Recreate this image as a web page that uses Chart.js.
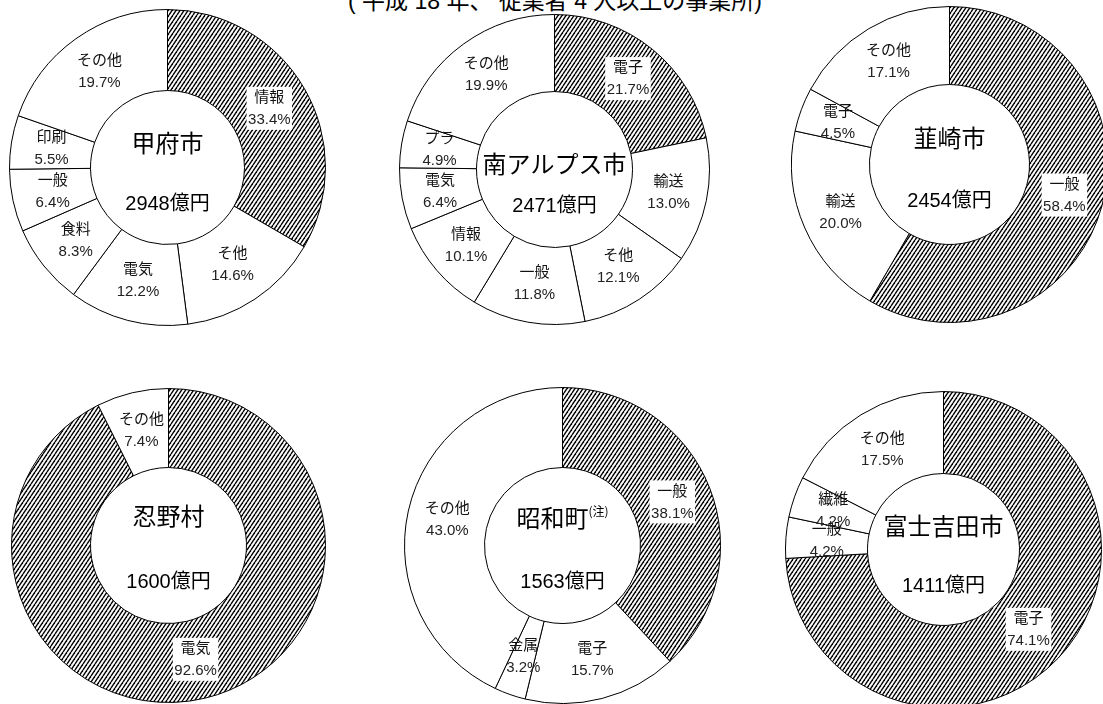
<!DOCTYPE html>
<html>
<head>
<meta charset="utf-8">
<script src="https://cdn.jsdelivr.net/npm/chart.js@4.4.1/dist/chart.umd.min.js"></script>
<style>
  html, body { margin:0; padding:0; background:#fff; width:1103px; height:704px; overflow:hidden; }
  .box { position:absolute; }
  #note { position:absolute; left:300px; width:510px; top:-18px; text-align:center; font:23px "Liberation Sans","Noto Sans CJK JP",sans-serif; color:#000; white-space:nowrap; }
</style>
</head>
<body>
<div id="note">( 平成 18 年、 従業者 4 人以上の事業所)</div>
<script>
// ------------------------------------------------------------
// data (shares in %, first slice of each ring is the hatched one)
// ------------------------------------------------------------
const cities    = ['甲府市','南アルプス市','韮崎市','忍野村','昭和町','富士吉田市'];
const cityNotes = ['','','','','(注)',''];
const totals    = [2948, 2471, 2454, 1600, 1563, 1411];

const kofuCats     = ['情報','そ他','電気','食料','一般','印刷','その他'];
const kofuShares   = [33.4, 14.6, 12.2, 8.3, 6.4, 5.5, 19.7];
const alpsCats     = ['電子','輸送','そ他','一般','情報','電気','プラ','その他'];
const alpsShares   = [21.7, 13.0, 12.1, 11.8, 10.1, 6.4, 4.9, 19.9];
const nirasakiCats   = ['一般','輸送','電子','その他'];
const nirasakiShares = [58.4, 20.0, 4.5, 17.1];
const oshinoCats   = ['電気','その他'];
const oshinoShares = [92.6, 7.4];
const showaCats    = ['一般','電子','金属','その他'];
const showaShares  = [38.1, 15.7, 3.2, 43.0];
const fujiCats     = ['電子','一般','繊維','その他'];
const fujiShares   = [74.1, 4.2, 4.2, 17.5];

const allCats   = [kofuCats, alpsCats, nirasakiCats, oshinoCats, showaCats, fujiCats];
const allShares = [kofuShares, alpsShares, nirasakiShares, oshinoShares, showaShares, fujiShares];

// ring geometry on the page: centre, outer radius, inner radius, name offset
const layout = [
  { cx:167, cy:167, r:158, ri:77, nameDy:-25 },
  { cx:554, cy:169, r:155, ri:78, nameDy:-6  },
  { cx:949, cy:164, r:158, ri:80, nameDy:-27 },
  { cx:168, cy:545, r:157, ri:78, nameDy:-30 },
  { cx:562, cy:545, r:158, ri:78, nameDy:-28 },
  { cx:943, cy:549, r:158, ri:76, nameDy:-24 },
];

const LBL_FONT = '15px "Liberation Sans","Noto Sans CJK JP",sans-serif';

function hatch() {
  const c = document.createElement('canvas');
  c.width = 4; c.height = 6;
  const g = c.getContext('2d');
  g.fillStyle = '#fff'; g.fillRect(0,0,4,6);
  g.strokeStyle = '#000'; g.lineWidth = 1.4;
  [-4,0,4].forEach(x0 => { g.beginPath(); g.moveTo(x0,6); g.lineTo(x0+4,0); g.stroke(); });
  return g.createPattern(c, 'repeat');
}

const labelPlugin = {
  id:'ringLabels',
  afterDatasetsDraw(chart) {
    const {ctx} = chart;
    const meta = chart.getDatasetMeta(0);
    const cats = chart.data.labels, vals = chart.data.datasets[0].data;
    ctx.save();
    ctx.font = LBL_FONT;
    ctx.textAlign = 'center';
    ctx.textBaseline = 'middle';
    meta.data.forEach((arc, i) => {
      const p = arc.tooltipPosition();
      const l1 = cats[i], l2 = vals[i].toFixed(1) + '%';
      if (i === 0) {
        const w = Math.max(ctx.measureText(l1).width, ctx.measureText(l2).width) + 3;
        ctx.fillStyle = '#fff';
        ctx.fillRect(p.x - w/2, p.y - 22, w, 43);
      }
      ctx.fillStyle = '#111';
      ctx.fillText(l1, p.x, p.y - 11);
      ctx.fillStyle = '#222';
      ctx.fillText(l2, p.x, p.y + 11);
    });
    // centre text
    const k = chart.options.plugins.ringLabels;
    const cx = (chart.chartArea.left + chart.chartArea.right) / 2;
    const cy = (chart.chartArea.top + chart.chartArea.bottom) / 2;
    ctx.fillStyle = '#000';
    ctx.font = '24px "Noto Sans CJK JP",sans-serif';
    const nw = ctx.measureText(k.name).width;
    ctx.font = '12px "Noto Sans CJK JP",sans-serif';
    const sw = k.note ? ctx.measureText(k.note).width : 0;
    ctx.font = '24px "Noto Sans CJK JP",sans-serif';
    ctx.fillText(k.name, cx - sw/2, cy + k.nameDy);
    if (k.note) {
      ctx.font = '12px "Noto Sans CJK JP",sans-serif';
      ctx.textAlign = 'left';
      ctx.fillText(k.note, cx - sw/2 + nw/2, cy + k.nameDy - 6);
      ctx.textAlign = 'center';
    }
    ctx.font = '20px "Liberation Sans","Noto Sans CJK JP",sans-serif';
    ctx.fillText(k.total + '億円', cx, cy + 37);
    ctx.restore();
  }
};

const pat = hatch();
cities.forEach((name, n) => {
  const L = layout[n];
  const size = 2 * L.r + 1;
  const box = document.createElement('div');
  box.className = 'box';
  box.style.left = (L.cx - size/2) + 'px';
  box.style.top = (L.cy - size/2) + 'px';
  box.style.width = size + 'px';
  box.style.height = size + 'px';
  const cv = document.createElement('canvas');
  box.appendChild(cv);
  document.body.appendChild(box);

  new Chart(cv.getContext('2d'), {
    type:'doughnut',
    data:{ labels:allCats[n], datasets:[{
      data:allShares[n],
      backgroundColor:allShares[n].map((v,i) => i === 0 ? pat : '#fff'),
      borderColor:'#000', borderWidth:1, hoverOffset:0,
    }]},
    options:{
      responsive:true, maintainAspectRatio:false, animation:false, events:[],
      cutout:(L.ri / L.r * 100) + '%',
      layout:{ padding:0 },
      plugins:{
        legend:{display:false}, tooltip:{enabled:false},
        ringLabels:{ name, note:cityNotes[n], total:totals[n], nameDy:L.nameDy },
      },
    },
    plugins:[labelPlugin],
  });
});
</script>
</body>
</html>
